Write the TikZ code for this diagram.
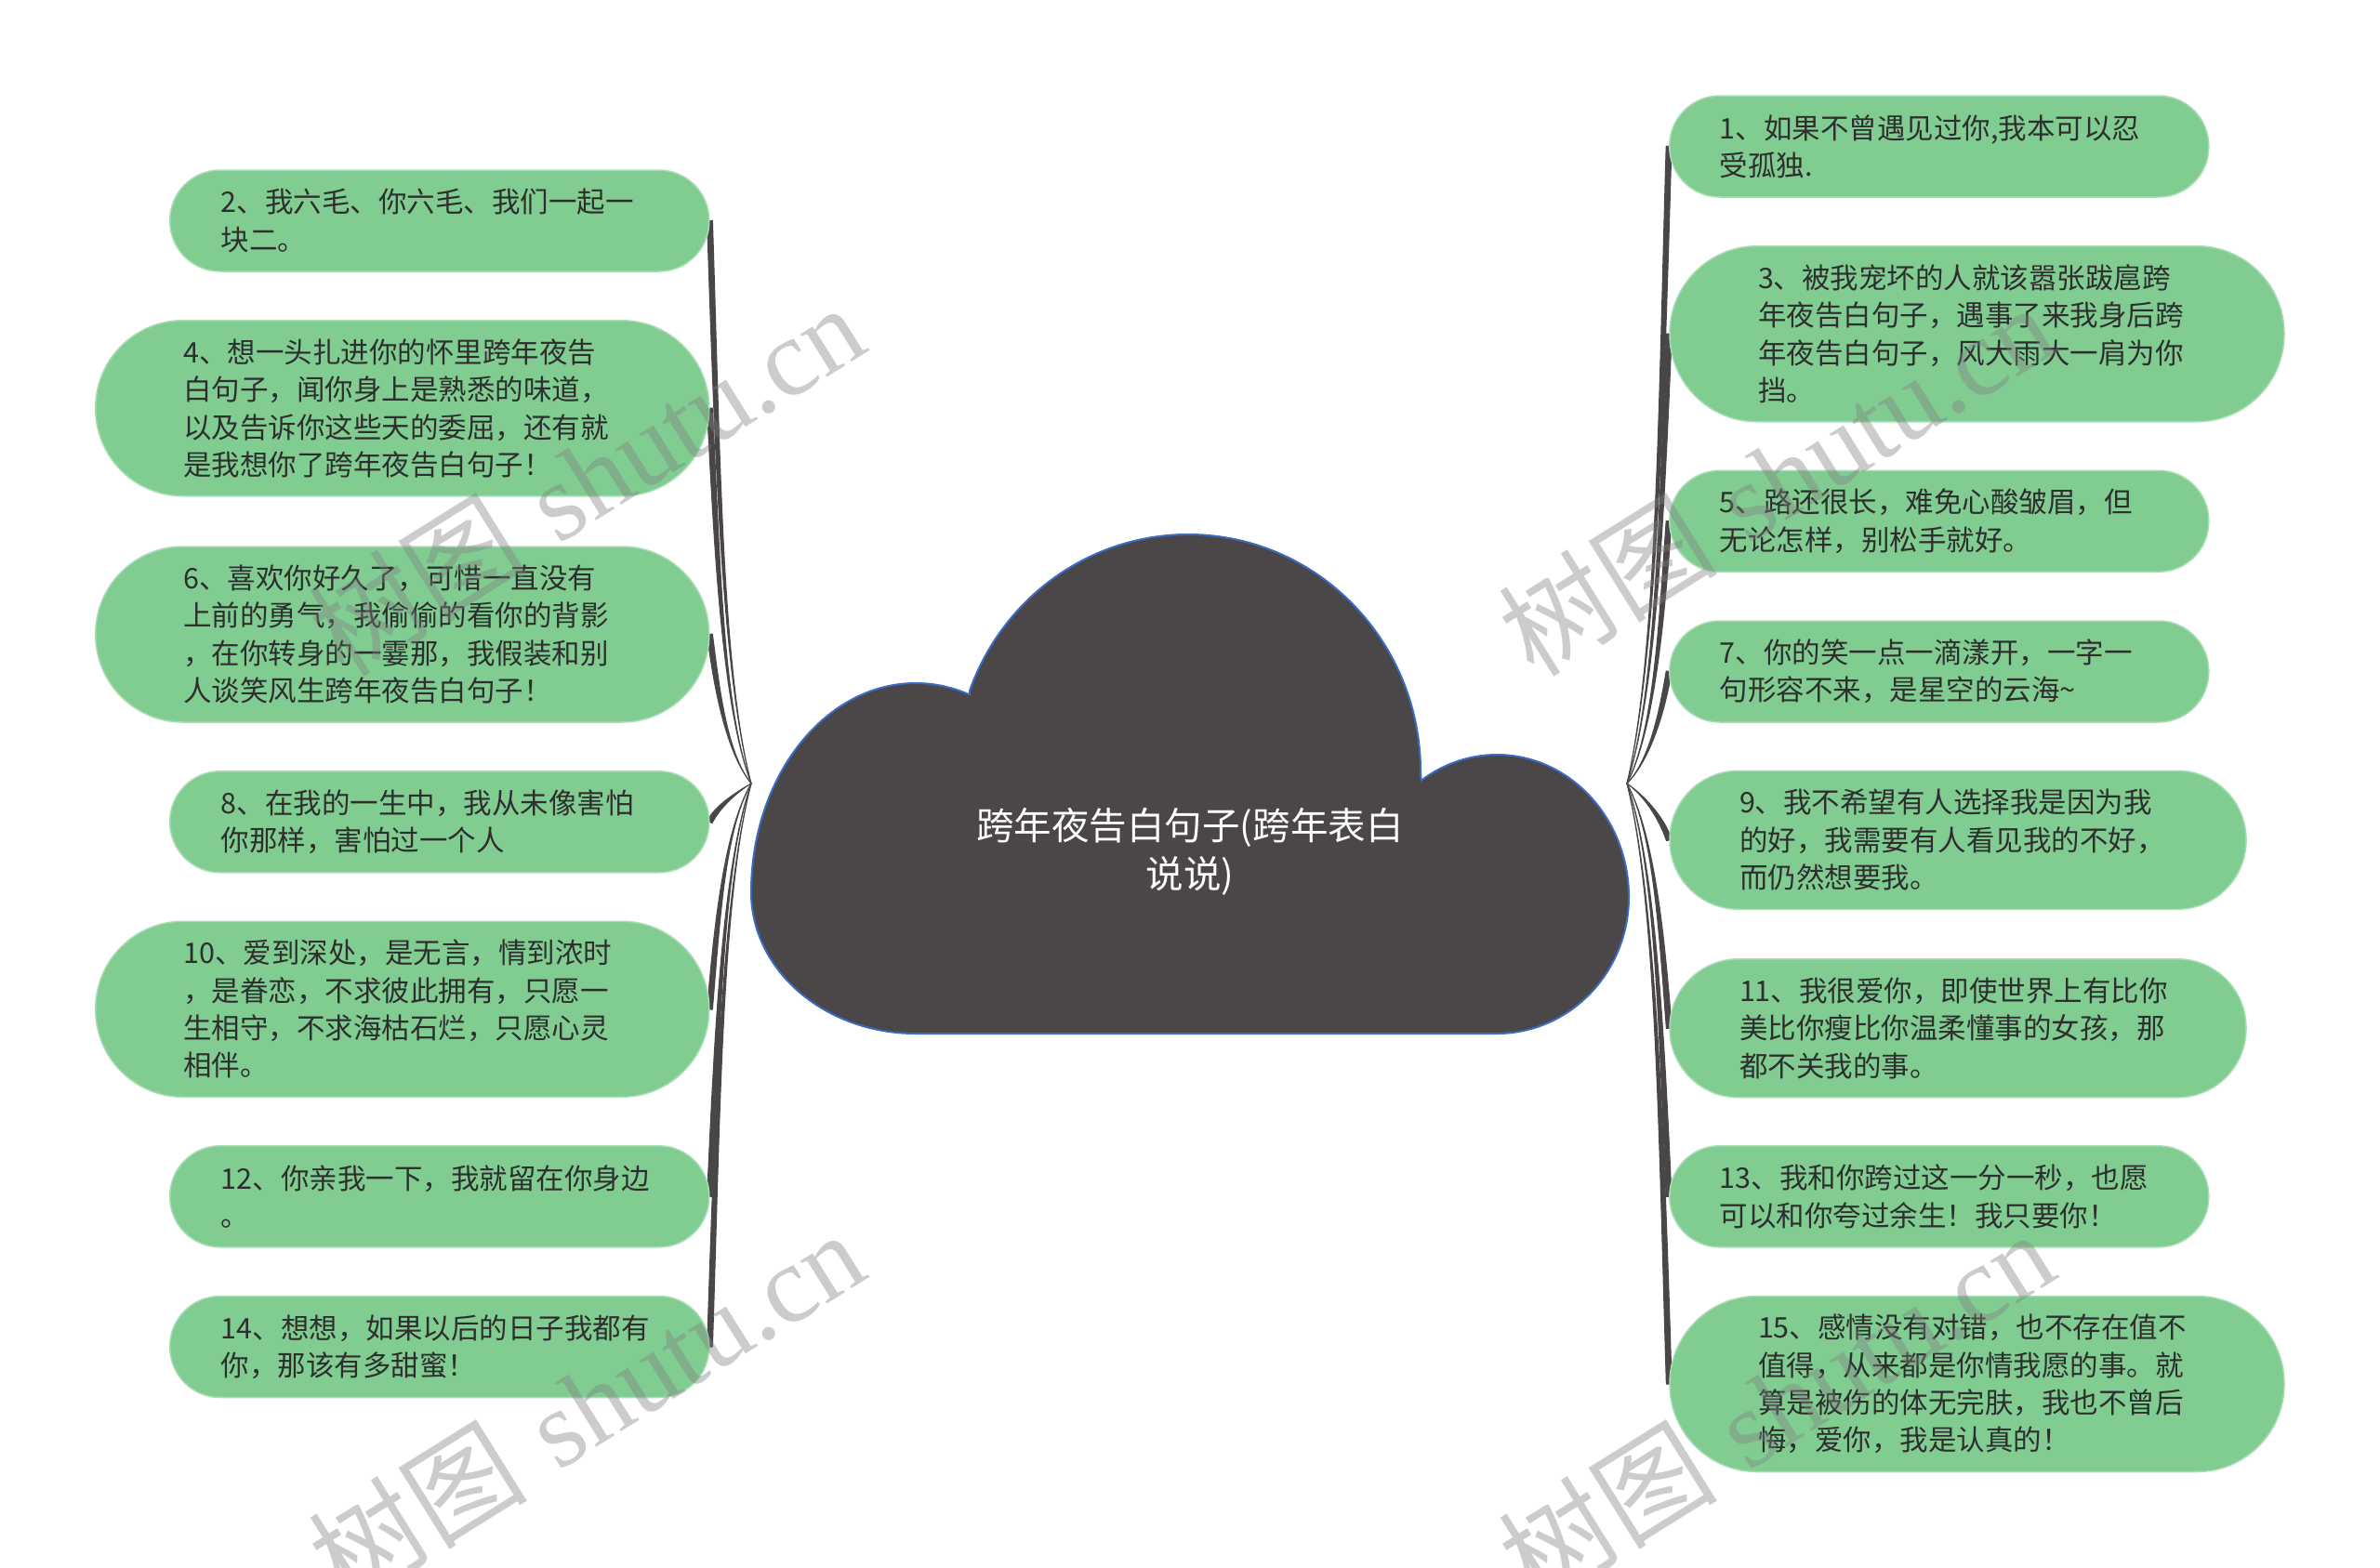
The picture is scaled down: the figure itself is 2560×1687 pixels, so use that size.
\documentclass[tikz,border=0pt]{standalone}
\usepackage{fontspec}
\newfontfamily\cjk{Noto Sans CJK SC}
\newfontfamily\wmlat{Liberation Serif}
\usetikzlibrary{calc}
\pgfdeclarelayer{background}
\pgfsetlayers{background,main}
\definecolor{leafgreen}{HTML}{80CC91}
\definecolor{leafedge}{HTML}{A9DDB5}
\definecolor{leaftext}{HTML}{2E2E2E}
\definecolor{cloudfill}{HTML}{4B4647}
\definecolor{cloudedge}{HTML}{3B6CC4}
\definecolor{conncol}{HTML}{4A4546}
% #1 hub, #2 node anchor, #3 side (-1 left, 1 right)
\newcommand\conn[3]{%
  \filldraw[connector] let \p1=(#1), \p2=(#2),
    \n1={\y1-\y2}, \n5={35*(abs(\n1)/(abs(\n1)+60))},
    \n2={veclen(8,0.4*\n1)},
    \n3={2.8*0.4*\n1/\n2}, \n4={2.8*(#3)*8/\n2} in
    (\p1) .. controls ({\x1+(#3)*\n5},{\y1-0.2*\n1}) and ({\x2-(#3)*8+\n3},{\y2+0.4*\n1+\n4}) .. ({\x2+\n3},{\y2+\n4})
    -- ({\x2-\n3},{\y2-\n4}) .. controls ({\x2-(#3)*8-\n3},{\y2+0.4*\n1-\n4}) and ({\x1+(#3)*\n5},{\y1-0.2*\n1}) .. (\p1) -- cycle;}
\begin{document}
\begin{tikzpicture}[x=1pt,y=-1pt,
  leaf/.style={fill=leafgreen, draw=leafedge, line width=1.5pt, text=leaftext, align=left,
    inner ysep=0pt, font=\cjk\fontsize{30.5}{40.4}\selectfont},
  lefttwo/.style={leaf, minimum width=580pt, minimum height=109pt, text width=470pt, inner xsep=55pt, rounded corners=54pt},
  leftfour/.style={leaf, minimum width=660pt, minimum height=189pt, text width=471pt, inner xsep=94.5pt, rounded corners=94pt},
  righttwo/.style={leaf, minimum width=580pt, minimum height=109pt, text width=472pt, inner xsep=54pt, rounded corners=54pt},
  rightthree/.style={leaf, minimum width=620pt, minimum height=149pt, text width=470pt, inner xsep=75pt, rounded corners=74pt},
  rightfour/.style={leaf, minimum width=661pt, minimum height=189pt, text width=471pt, inner xsep=95pt, rounded corners=94pt},
  connector/.style={fill=conncol, draw=conncol, line width=1.2pt, line join=round},
  cloudshape/.style={fill=cloudfill, draw=cloudedge, line width=2pt},
  rootlabel/.style={text=white, align=center, font=\cjk\fontsize{40.5}{52}\selectfont, inner sep=0pt},
  wm/.style={rotate=32, text=black!50, opacity=0.4, inner sep=0pt, font=\fontsize{118}{118}\selectfont}
]
\useasboundingbox (0,0) rectangle (2560,1687);
\begin{pgfonlayer}{background}
\fill[white] (0,0) rectangle (2560,1687);
\end{pgfonlayer}

% central cloud
\filldraw[cloudshape]
 (985,1112) .. controls (887.2,1112) and (808,1043.9) .. (808,960)
 .. controls (808,835.7) and (887.2,735) .. (985,735)
 .. controls (1004.7,735) and (1024.3,739.2) .. (1042.9,747.4)
 -- (1043.1,742.8)
 .. controls (1079,642.1) and (1172.9,575) .. (1278,575)
 .. controls (1416.1,575) and (1528,689.2) .. (1528,830)
 -- (1528.6,839.7)
 .. controls (1552.5,821.7) and (1580.9,812) .. (1610,812)
 .. controls (1688.4,812) and (1752,880.5) .. (1752,965)
 .. controls (1752,1046.2) and (1688.4,1112) .. (1610,1112)
 -- cycle;
\node[rootlabel] (root) at (1280,916) {跨年夜告白句子(跨年表白\\说说)};

\coordinate (hl) at (808,843);
\coordinate (hr) at (1750,843);

% left branch
\node[lefttwo]  (n2)  at (472.75,237.5)  {2、我六毛、你六毛、我们一起一\\块二。};
\node[leftfour] (n4)  at (432.75,439.25) {4、想一头扎进你的怀里跨年夜告\\白句子，闻你身上是熟悉的味道，\\以及告诉你这些天的委屈，还有就\\是我想你了跨年夜告白句子！};
\node[leftfour] (n6)  at (432.75,682.5)  {6、喜欢你好久了，可惜一直没有\\上前的勇气，我偷偷的看你的背影\\，在你转身的一霎那，我假装和别\\人谈笑风生跨年夜告白句子！};
\node[lefttwo]  (n8)  at (472.75,884.25) {8、在我的一生中，我从未像害怕\\你那样，害怕过一个人};
\node[leftfour] (n10) at (432.75,1085.75) {10、爱到深处，是无言，情到浓时\\，是眷恋，不求彼此拥有，只愿一\\生相守，不求海枯石烂，只愿心灵\\相伴。};
\node[lefttwo]  (n12) at (472.75,1287.3) {12、你亲我一下，我就留在你身边\\。};
\node[lefttwo]  (n14) at (472.75,1449)   {14、想想，如果以后的日子我都有\\你，那该有多甜蜜！};

% right branch
\node[righttwo]   (n1)  at (2085.8,157.5)  {1、如果不曾遇见过你,我本可以忍\\受孤独.};
\node[rightfour]  (n3)  at (2126.5,359.25) {3、被我宠坏的人就该嚣张跋扈跨\\年夜告白句子，遇事了来我身后跨\\年夜告白句子，风大雨大一肩为你\\挡。};
\node[righttwo]   (n5)  at (2085.8,560.75) {5、路还很长，难免心酸皱眉，但\\无论怎样，别松手就好。};
\node[righttwo]   (n7)  at (2085.8,722.5)  {7、你的笑一点一滴漾开，一字一\\句形容不来，是星空的云海\textasciitilde};
\node[rightthree] (n9)  at (2106,903.75)   {9、我不希望有人选择我是因为我\\的好，我需要有人看见我的不好，\\而仍然想要我。};
\node[rightthree] (n11) at (2106,1106.25)  {11、我很爱你，即使世界上有比你\\美比你瘦比你温柔懂事的女孩，那\\都不关我的事。};
\node[righttwo]   (n13) at (2085.8,1287.3) {13、我和你跨过这一分一秒，也愿\\可以和你夸过余生！我只要你！};
\node[rightfour]  (n15) at (2126.5,1489)   {15、感情没有对错，也不存在值不\\值得，从来都是你情我愿的事。就\\算是被伤的体无完肤，我也不曾后\\悔，爱你，我是认真的！};

\begin{pgfonlayer}{background}
\foreach \nd in {n2,n4,n6,n8,n10,n12,n14} {\conn{hl}{\nd.east}{-1}}
\foreach \nd in {n1,n3,n5,n7,n9,n11,n13,n15} {\conn{hr}{\nd.west}{1}}
\end{pgfonlayer}

% watermarks
\node[wm] (wm1) at (630,515)  {{\cjk 树图} {\wmlat shutu.cn}};
\node[wm] (wm2) at (630,1512) {{\cjk 树图} {\wmlat shutu.cn}};
\node[wm] (wm3) at (1910,515) {{\cjk 树图} {\wmlat shutu.cn}};
\node[wm] (wm4) at (1910,1512) {{\cjk 树图} {\wmlat shutu.cn}};
\end{tikzpicture}
\end{document}
